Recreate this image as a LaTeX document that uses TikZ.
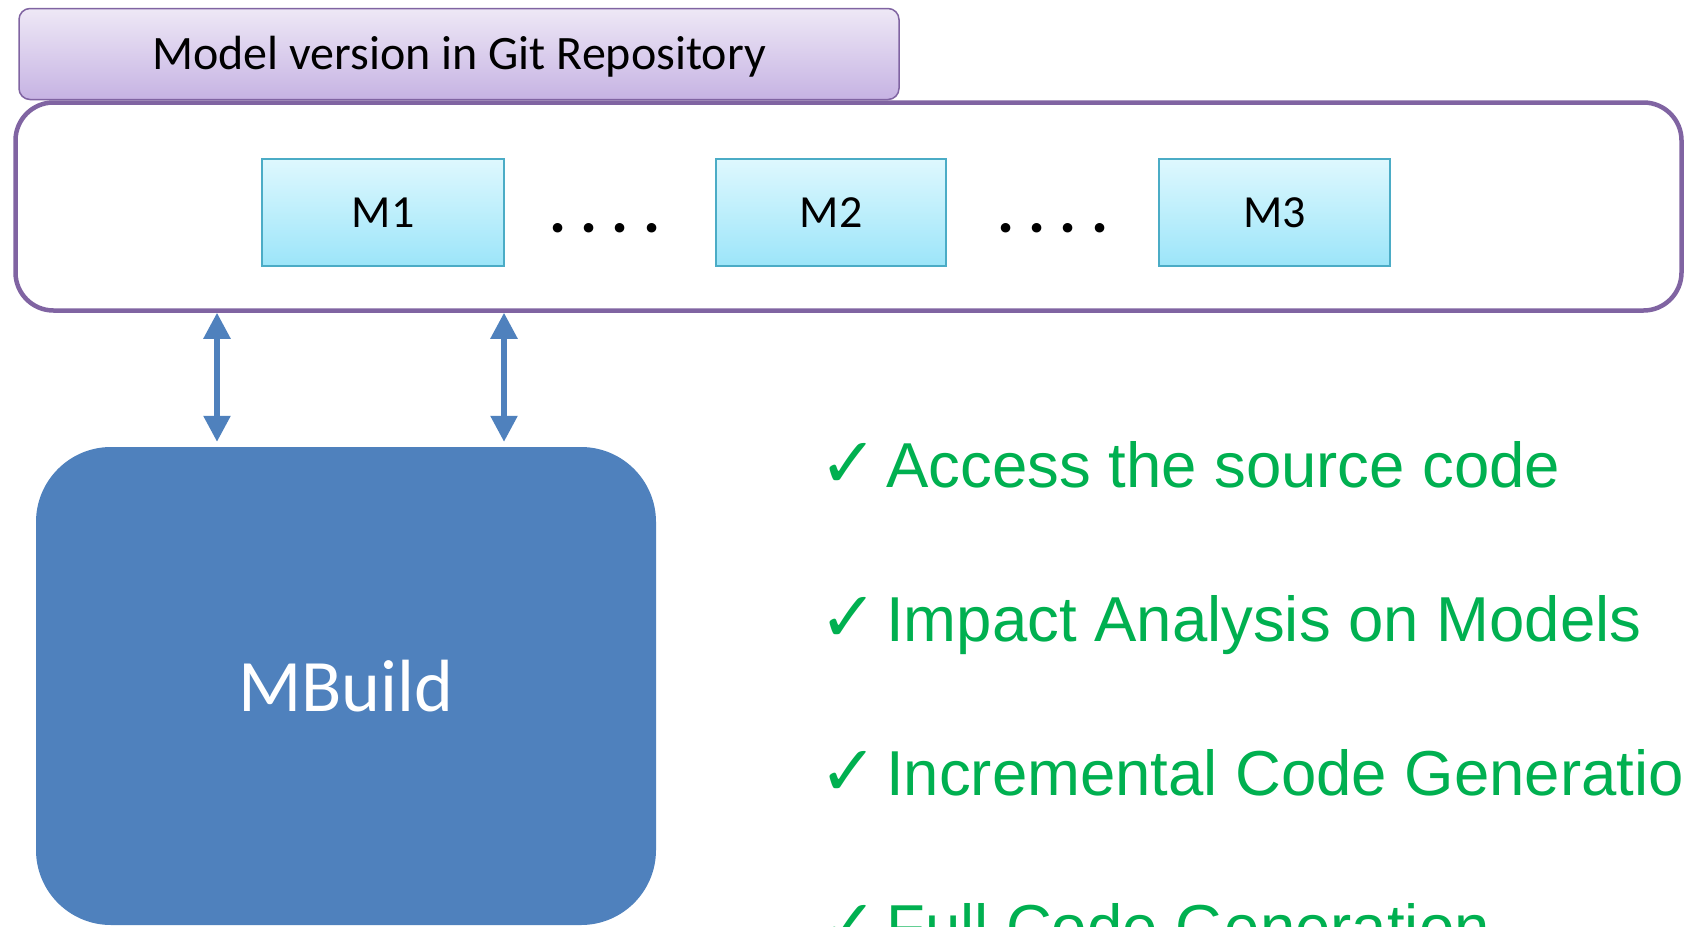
\documentclass[tikz,border=0pt]{standalone}
\usepackage{fontspec}
\setmainfont{Carlito}
\newfontfamily\listfont{Liberation Sans}
\newfontfamily\tickfont{DejaVu Sans}
\usetikzlibrary{arrows.meta}

\definecolor{repoline}{HTML}{8064A2}
\definecolor{titletop}{HTML}{EEE8F6}
\definecolor{titlebot}{HTML}{C6B3E3}
\definecolor{modelline}{HTML}{4BACC6}
\definecolor{modeltop}{HTML}{DEF8FE}
\definecolor{modelbot}{HTML}{9CE5F9}
\definecolor{toolblue}{HTML}{4F81BD}
\definecolor{gaingreen}{HTML}{00B050}

\tikzset{
  header/.style={draw=repoline,line width=1.5pt,rounded corners=11pt,top color=titletop,bottom color=titlebot,minimum width=880pt,minimum height=91pt,text depth=3pt,font=\fontsize{48}{56}\selectfont},
  repo/.style={draw=repoline,line width=4.5pt,rounded corners=38pt,minimum width=1666pt,minimum height=208pt},
  model/.style={draw=modelline,line width=2pt,top color=modeltop,bottom color=modelbot,minimum height=107pt,font=\fontsize{46}{55}\selectfont},
  dots/.style={anchor=base,font=\bfseries\fontsize{64}{70}\selectfont},
  tool/.style={fill=toolblue,rounded corners=75pt,minimum width=620pt,minimum height=478pt,text=white,font=\fontsize{74}{86}\selectfont},
  link/.style={draw=toolblue,line width=5.5pt,{Triangle[width=26pt,length=26pt]}-{Triangle[width=26pt,length=26pt]},shorten >=5pt},
  gain/.style={anchor=base west,inner sep=0pt,text=gaingreen,font=\listfont\fontsize{63.5}{76}\selectfont}
}
\newcommand{\fourdots}{.\hspace{14pt}.\hspace{14pt}.\hspace{14pt}.}
\newcommand{\tick}{\makebox[67pt][l]{\tickfont\bfseries\fontsize{70}{76}\selectfont ✓}}

\begin{document}
\begin{tikzpicture}[x=1pt,y=-1pt]
\path[use as bounding box,fill=white] (0,0) rectangle (1686,926);

\node[header] (title) at (459,54) {Model version in Git Repository};
\node[repo] (repo) at (848.5,206.5) {};

\node[model,minimum width=242pt] (m1) at (383,212.5) {M1};
\node[dots] (d1) at (605,232) {\fourdots};
\node[model,minimum width=230pt] (m2) at (831,212.5) {M2};
\node[dots] (d2) at (1053,232) {\fourdots};
\node[model,minimum width=231pt] (m3) at (1274.5,212.5) {M3};

\node[tool] (mbuild) at (346,686) {MBuild};

\coordinate (a1) at (217,0);
\coordinate (a2) at (504,0);
\draw[link] (repo.south -| a1) -- (mbuild.north -| a1);
\draw[link] (repo.south -| a2) -- (mbuild.north -| a2);

\node[gain] (g1) at (819,487) {\tick Access the source code};
\node[gain] (g2) at (819,641) {\tick Impact Analysis on Models};
\node[gain] (g3) at (819,795) {\tick Incremental Code Generation};
\node[gain] (g4) at (819,949) {\tick Full Code Generation};
\end{tikzpicture}
\end{document}
